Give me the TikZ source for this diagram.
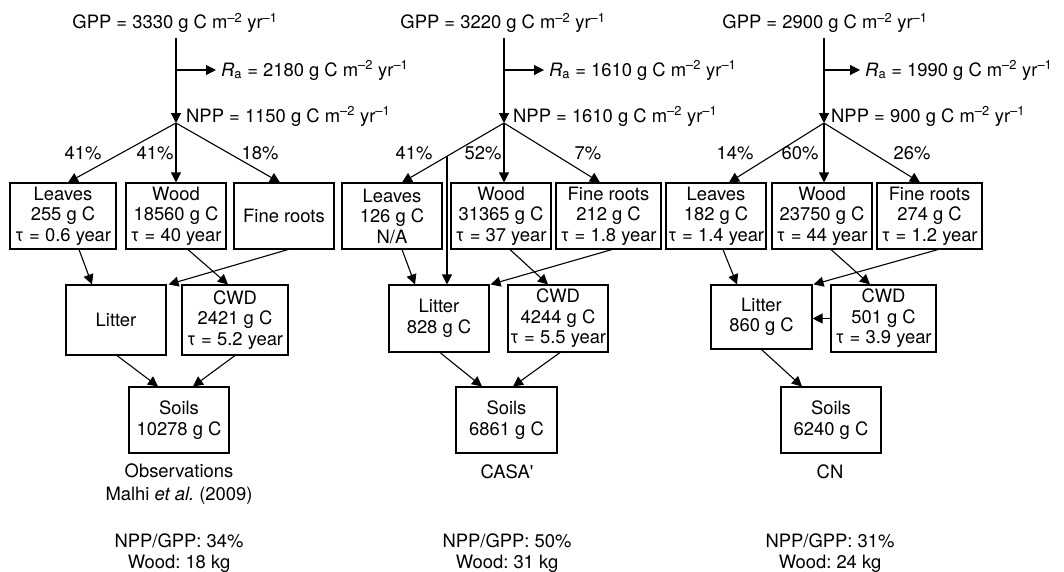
\documentclass[tikz,border=0pt]{standalone}
\usepackage{fontspec}
\setmainfont{TeX Gyre Heros}
\usetikzlibrary{arrows.meta,calc}
\newcommand\gcu{g C m\textsuperscript{–2} yr\textsuperscript{–1}}
\frenchspacing
\begin{document}
\begin{tikzpicture}[x=1pt,y=-1pt,
  every node/.style={font=\fontsize{18.4}{20.5}\selectfont, inner sep=0pt},
  box/.style={draw, line width=1.1pt, align=center, minimum height=66pt, minimum width=100pt},
  arr/.style={line width=1.1pt, -{Triangle[length=10pt,width=10pt]}},
  lbl/.style={anchor=base},
  lw/.style={anchor=base west}]
\useasboundingbox (0,0) rectangle (1064,571);

% ---------------- Panel 1: Observations ----------------
\node[lbl] (G1) at (175,28.5) {GPP = 3330 \gcu};
\coordinate (T1) at (176,38);
\coordinate (R1) at (176,70);
\coordinate (N1) at (176,123);
\draw[arr] (T1) -- (N1);
\node[lw] (RA1) at (221,76) {\textit{R}\textsubscript{a} = 2180 \gcu};
\draw[arr] (R1) -- ([xshift=-5pt]RA1.west |- R1);
\node[lw] (NP1) at (186,122) {NPP = 1150 \gcu};

\node[box, minimum width=106pt] (L1) at (63,216) {Leaves\\255 g C\\τ = 0.6 year};
\node[box] (W1) at (176,216) {Wood\\18560 g C\\τ = 40 year};
\node[box] (F1) at (284,216) {Fine roots};
\node[box, minimum height=70pt] (Li1) at (116,320) {Litter};
\node[box, minimum width=106pt, minimum height=70pt] (C1) at (235,320) {CWD\\2421 g C\\τ = 5.2 year};
\node[box] (S1) at (179,420) {Soils\\10278 g C};

\draw[arr] (N1) -- ([xshift=5pt]L1.north);
\draw[arr] (N1) -- (W1.north);
\draw[arr] (N1) -- ([xshift=-4pt]F1.north);
\node[lbl] at (83,159) {41\%};
\node[lbl] at (155,159) {41\%};
\node[lbl] at (260,159) {18\%};

\draw[arr] ([xshift=16pt]L1.south) -- ([xshift=-24pt]Li1.north);
\draw[arr] ([xshift=12pt]W1.south) -- ([xshift=-7pt]C1.north);
\draw[arr] ([xshift=4pt]F1.south) -- ([xshift=2pt]Li1.north east);
\draw[arr] ([xshift=1pt]Li1.south) -- ([xshift=-21pt]S1.north);
\draw[arr] (C1.south) -- ([xshift=14pt]S1.north);

\node[lbl] at (179,477) {Observations};
\node[lbl] at (179,500) {Malhi \textit{et al.} (2009)};
\node[lbl] at (179,547) {NPP/GPP: 34\%};
\node[lbl] at (179,568) {Wood: 18 kg};

% ---------------- Panel 2: CASA' ----------------
\node[lbl] (G2) at (503,28.5) {GPP = 3220 \gcu};
\coordinate (T2) at (504,38);
\coordinate (R2) at (504,70);
\coordinate (N2) at (504,123);
\draw[arr] (T2) -- (N2);
\node[lw] (RA2) at (549,76) {\textit{R}\textsubscript{a} = 1610 \gcu};
\draw[arr] (R2) -- ([xshift=-5pt]RA2.west |- R2);
\node[lw] (NP2) at (513,122) {NPP = 1610 \gcu};

\node[box] (L2) at (392,216) {Leaves\\126 g C\\N/A};
\node[box] (W2) at (501,216) {Wood\\31365 g C\\τ = 37 year};
\node[box, minimum width=105pt] (F2) at (608.5,216) {Fine roots\\212 g C\\τ = 1.8 year};
\node[box, minimum height=67pt] (Li2) at (439,318.5) {Litter\\828 g C};
\node[box, minimum height=67pt] (C2) at (558,318.5) {CWD\\4244 g C\\τ = 5.5 year};
\node[box, minimum width=101pt] (S2) at (506.5,420) {Soils\\6861 g C};

\coordinate (B2) at ($(N2)!0.559!([xshift=10pt]L2.north)$);
\draw[arr] (N2) -- ([xshift=10pt]L2.north);
\draw[arr] (N2) -- ([xshift=3pt]W2.north);
\draw[arr] (N2) -- ([xshift=-8.5pt]F2.north);
\draw[arr] (B2) -- (B2 |- Li2.north);
\node[lbl] at (414,159) {41\%};
\node[lbl] at (483,159) {52\%};
\node[lbl] at (588,159) {7\%};

\draw[arr] ([xshift=10pt]L2.south) -- ([xshift=-24pt]Li2.north);
\draw[arr] ([xshift=9pt]W2.south) -- ([xshift=-10pt]C2.north);
\draw[arr] ([xshift=3.5pt]F2.south) -- ([xshift=1pt]Li2.north east);
\draw[arr] ([xshift=1pt]Li2.south) -- ([xshift=-24.5pt]S2.north);
\draw[arr] ([xshift=2pt]C2.south) -- ([xshift=6.5pt]S2.north);

\node[lbl] at (507,478) {CASA\textquotesingle};
\node[lbl] at (507,547) {NPP/GPP: 50\%};
\node[lbl] at (507,568) {Wood: 31 kg};

% ---------------- Panel 3: CN ----------------
\node[lbl] (G3) at (825,28.5) {GPP = 2900 \gcu};
\coordinate (T3) at (824,38);
\coordinate (R3) at (824,70);
\coordinate (N3) at (824,123);
\draw[arr] (T3) -- (N3);
\node[lw] (RA3) at (865,76) {\textit{R}\textsubscript{a} = 1990 \gcu};
\draw[arr] (R3) -- ([xshift=-5pt]RA3.west |- R3);
\node[lw] (NP3) at (831,122) {NPP = 900 \gcu};

\node[box] (L3) at (716,216) {Leaves\\182 g C\\τ = 1.4 year};
\node[box] (W3) at (822,216) {Wood\\23750 g C\\τ = 44 year};
\node[box, minimum width=105pt] (F3) at (929.5,216) {Fine roots\\274 g C\\τ = 1.2 year};
\node[box, minimum width=101pt, minimum height=64pt] (Li3) at (761.5,317) {Litter\\860 g C};
\node[box, minimum width=105pt, minimum height=67pt] (C3) at (883.5,318.5) {CWD\\501 g C\\τ = 3.9 year};
\node[box] (S3) at (831,420) {Soils\\6240 g C};

\draw[arr] (N3) -- ([xshift=13pt]L3.north);
\draw[arr] (N3) -- ([xshift=2pt]W3.north);
\draw[arr] (N3) -- ([xshift=-9.5pt]F3.north);
\node[lbl] at (735,159) {14\%};
\node[lbl] at (800,159) {60\%};
\node[lbl] at (912,159) {26\%};

\draw[arr] ([xshift=7pt]L3.south) -- ([xshift=-24.5pt]Li3.north);
\draw[arr] ([xshift=9pt]W3.south) -- ([xshift=-13.5pt]C3.north);
\draw[arr] ([xshift=8.5pt]F3.south) -- ([xshift=1pt]Li3.north east);
\draw[arr] (C3.west) -- (Li3.east |- C3.west);
\draw[arr] (Li3.south) -- ([xshift=-29pt]S3.north);

\node[lbl] at (830,478) {CN};
\node[lbl] at (830,547) {NPP/GPP: 31\%};
\node[lbl] at (830,568) {Wood: 24 kg};
\end{tikzpicture}
\end{document}
